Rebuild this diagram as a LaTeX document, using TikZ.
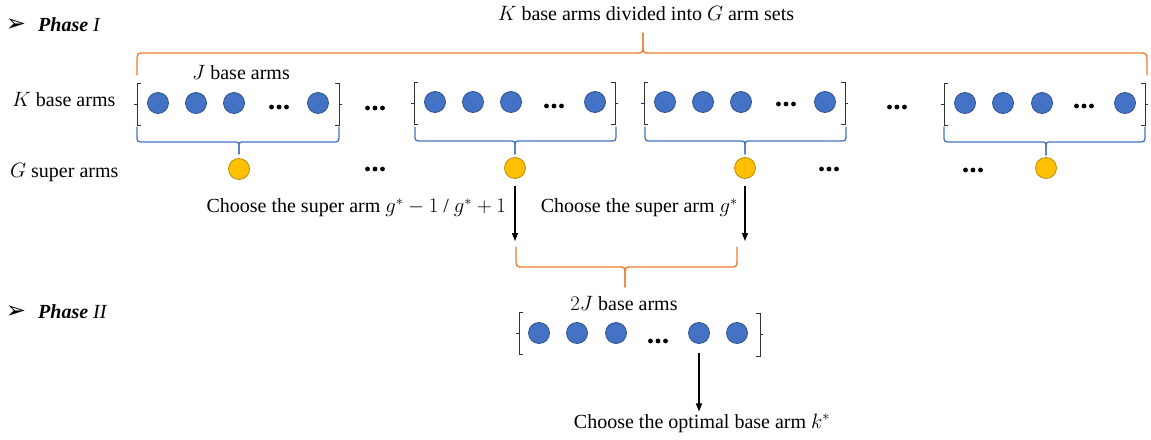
\documentclass[tikz,border=0pt]{standalone}
\usepackage{fontspec}
\setmainfont{Liberation Serif}
\newfontfamily\symfont{DejaVu Sans}
\usetikzlibrary{arrows.meta}

\definecolor{armblue}{RGB}{68,114,196}
\definecolor{armblueedge}{RGB}{47,82,143}
\definecolor{armgold}{RGB}{255,192,0}
\definecolor{armgoldedge}{RGB}{188,140,0}
\definecolor{braceorange}{RGB}{237,125,49}
\definecolor{brk}{RGB}{50,50,50}

\tikzset{
  basearm/.style={circle, minimum size=21pt, inner sep=0pt, fill=armblue, draw=armblueedge, line width=0.8pt},
  superarm/.style={circle, minimum size=21pt, inner sep=0pt, fill=armgold, draw=armgoldedge, line width=0.8pt},
  txt/.style={font=\fontsize{20}{24}\selectfont, inner sep=2pt},
  phasetxt/.style={font=\fontsize{20}{24}\selectfont, inner sep=0pt, anchor=west},
  phasemark/.style={font=\symfont\fontsize{24}{26}\selectfont, inner sep=0pt},
  bluebrace/.style={draw=armblue, line width=1.3pt, line join=round, line cap=round},
  orangebrace/.style={draw=braceorange, line width=1.3pt, line join=round, line cap=round},
  brkline/.style={draw=brk, line width=0.9pt},
  arr/.style={draw=black, line width=1.2pt, -{Triangle[length=8pt,width=6pt]}},
}

% horizontal curly brace: x0, x1, x of the tip, y of the ends, y of the bar, y of the tip
\newcommand{\armbrace}[7]{%
  \draw[#7] (#1,#4) -- (#1,{#5+0.5*(#4-#5)}) .. controls (#1,#5) .. ({#1+7},#5)
    -- ({#3-6},#5) .. controls (#3,#5) .. (#3,{#5+0.5*(#6-#5)}) -- (#3,#6);
  \draw[#7] (#3,#6) -- (#3,{#5+0.5*(#6-#5)}) .. controls (#3,#5) .. ({#3+6},#5)
    -- ({#2-7},#5) .. controls (#2,#5) .. (#2,{#5+0.5*(#4-#5)}) -- (#2,#4);
}
% square brackets with a small tick at mid height
\newcommand{\leftbrk}[3]{%
  \draw[brkline] ({#1+4},#2) -- (#1,#2) -- (#1,#3) -- ({#1+4},#3);
  \draw[brkline] ({#1-3},{0.5*(#2+#3)}) -- (#1,{0.5*(#2+#3)});
}
\newcommand{\rightbrk}[3]{%
  \draw[brkline] ({#1-4},#2) -- (#1,#2) -- (#1,#3) -- ({#1-4},#3);
  \draw[brkline] ({#1+3},{0.5*(#2+#3)}) -- (#1,{0.5*(#2+#3)});
}
% bold ellipsis
\newcommand{\tripledots}[2]{%
  \foreach \dx in {-7.5,0,7.5} \fill[black] ({#1+\dx},#2) circle (2.4);
}

\begin{document}
\begin{tikzpicture}[x=1pt, y=-1pt]
\useasboundingbox (0,0) rectangle (1151,439);

% ---- Phase I ----
\node[phasemark] (mark1) at (16,25) {➢};
\node[phasetxt] (ph1) at (38,25) {{\bfseries\itshape Phase} {\itshape I}};

\node[txt] (title) at (646,14) {$K$ base arms divided into $G$ arm sets};
\armbrace{137}{1147}{643}{75}{53}{33}{orangebrace}

\node[txt, anchor=west] (kb) at (10,100) {$K$ base arms};
\node[txt, anchor=west] (gs) at (8,173) {$G$ super arms};
\node[txt] (jb) at (241,73) {$J$ base arms};

% group 1
\leftbrk{137}{83}{125}\rightbrk{339}{83}{125}
\node[basearm] (a11) at (158,103) {};
\node[basearm] (a12) at (196,103) {};
\node[basearm] (a13) at (234,103) {};
\tripledots{279}{107}
\node[basearm] (a14) at (318,103) {};
% group 2
\leftbrk{414}{82}{124}\rightbrk{615}{82}{124}
\node[basearm] (a21) at (435,102) {};
\node[basearm] (a22) at (473,102) {};
\node[basearm] (a23) at (511,102) {};
\tripledots{554}{106}
\node[basearm] (a24) at (595,102) {};
% group 3
\leftbrk{644}{82}{124}\rightbrk{845}{82}{124}
\node[basearm] (a31) at (665,102) {};
\node[basearm] (a32) at (703,102) {};
\node[basearm] (a33) at (741,102) {};
\tripledots{786}{104}
\node[basearm] (a34) at (825,102) {};
% group 4
\leftbrk{944}{83}{125}\rightbrk{1145}{83}{125}
\node[basearm] (a41) at (965,103) {};
\node[basearm] (a42) at (1003,103) {};
\node[basearm] (a43) at (1042,103) {};
\tripledots{1084}{106}
\node[basearm] (a44) at (1125,103) {};

\tripledots{375}{108}
\tripledots{897}{107}

% braces gathering each set into a super arm
\armbrace{137}{339}{239}{127}{142}{154}{bluebrace}
\armbrace{415}{616}{515}{127}{141}{154}{bluebrace}
\armbrace{645}{846}{745}{127}{141}{154}{bluebrace}
\armbrace{944}{1145}{1046}{127}{142}{155}{bluebrace}

\node[superarm] (s1) at (239,169) {};
\node[superarm] (s2) at (515,168) {};
\node[superarm] (s3) at (745,168) {};
\node[superarm] (s4) at (1046,168) {};
\tripledots{375}{169}
\tripledots{829}{169}
\tripledots{973}{170}

% choice of super arms
\coordinate (m1) at (515,241);
\coordinate (m2) at (745,241);
\draw[arr] ([yshift=-7pt]s2.south) -- (m1);
\draw[arr] ([yshift=-7pt]s3.south) -- (m2);
\node[txt, anchor=east] (c1) at (508,208) {Choose the super arm $g^*-1$ / $g^*+1$};
\node[txt, anchor=east] (c2) at (740,208) {Choose the super arm $g^*$};

\armbrace{516}{737}{625}{247}{267}{287}{orangebrace}

% ---- Phase II ----
\node[phasemark] (mark2) at (16,312) {➢};
\node[phasetxt] (ph2) at (38,312) {{\bfseries\itshape Phase} {\itshape II}};

\node[txt] (jj) at (624,304) {$2J$ base arms};
\leftbrk{519}{312}{354}\rightbrk{760}{313}{356}
\node[basearm] (b1) at (539,333) {};
\node[basearm] (b2) at (577,333) {};
\node[basearm] (b3) at (616,333) {};
\tripledots{658}{341}
\node[basearm] (b4) at (699,333) {};
\node[basearm] (b5) at (737,333) {};

\node[txt] (opt) at (702,423) {Choose the optimal base arm $k^*$};
\draw[arr] ([yshift=-9pt]b4.south) -- (opt.north -| b4.south);
\end{tikzpicture}
\end{document}
